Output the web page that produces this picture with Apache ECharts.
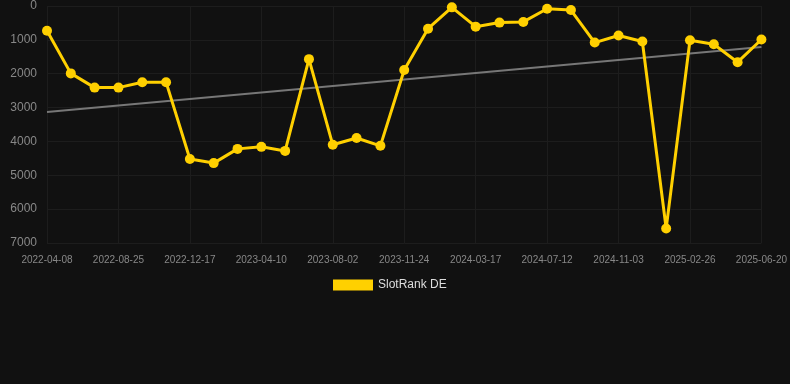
<!DOCTYPE html>
<html lang="en" style="height: 100%">
<head>
<meta charset="utf-8">
<title>SlotRank DE</title>
</head>
<body style="height: 100%; margin: 0; background: #111111">
<div id="container" style="height: 100%"></div>

<script type="text/javascript" src="https://cdn.jsdelivr.net/npm/echarts/dist/echarts.min.js"></script>

<script type="text/javascript">
var dates = [
  '2022-04-08', '2022-05-24', '2022-07-09', '2022-08-25', '2022-10-02', '2022-11-09',
  '2022-12-17', '2023-01-24', '2023-03-03', '2023-04-10', '2023-05-18', '2023-06-25',
  '2023-08-02', '2023-09-09', '2023-10-17', '2023-11-24', '2024-01-01', '2024-02-08',
  '2024-03-17', '2024-04-25', '2024-06-03', '2024-07-12', '2024-08-19', '2024-09-26',
  '2024-11-03', '2024-12-11', '2025-01-18', '2025-02-26', '2025-04-05', '2025-05-13',
  '2025-06-20'
];

var rankDE = [
  730, 1990, 2410, 2410, 2250, 2250,
  4520, 4640, 4220, 4160, 4280, 1570,
  4100, 3900, 4130, 1890, 670, 40,
  610, 490, 470, 80, 120, 1080,
  870, 1050, 6570, 1010, 1130, 1660,
  990
];

// trend line: only the two ends are known, the line joins them
var trendEnds = [3130, 1210];

var yTicks = [0, 1000, 2000, 3000, 4000, 5000, 6000, 7000];

var trend = dates.map(function (d, i) {
  if (i === 0) return trendEnds[0];
  if (i === dates.length - 1) return trendEnds[1];
  return '-';
});

var dom = document.getElementById('container');
var myChart = echarts.init(dom);

var option = {
  backgroundColor: '#111111',
  animation: false,
  grid: {
    left: 47,
    right: 28,
    top: 6,
    bottom: 141
  },
  legend: {
    bottom: 88,
    left: 328,
    itemWidth: 40,
    itemHeight: 11,
    data: [{ name: 'SlotRank DE', icon: 'rect' }],
    textStyle: { color: '#dddddd', fontSize: 12, fontFamily: 'Liberation Sans, Arial, sans-serif' }
  },
  xAxis: {
    type: 'category',
    data: dates,
    boundaryGap: false,
    axisLine: { show: false },
    axisTick: { show: false },
    axisLabel: {
      interval: 2,
      color: '#888888',
      fontSize: 10,
      margin: 12,
      fontFamily: 'Liberation Sans, Arial, sans-serif'
    },
    splitLine: {
      show: true,
      interval: 2,
      lineStyle: { color: '#1d1d1d', width: 1 }
    }
  },
  yAxis: {
    type: 'value',
    inverse: true,
    min: yTicks[0],
    max: yTicks[yTicks.length - 1],
    interval: 1000,
    axisLine: { show: false },
    axisTick: { show: false },
    axisLabel: {
      color: '#888888',
      fontSize: 12,
      margin: 10,
      formatter: function (v) { return String(v); },
      fontFamily: 'Liberation Sans, Arial, sans-serif'
    },
    splitLine: { lineStyle: { color: '#1d1d1d', width: 1 } }
  },
  series: [
    {
      name: 'trend',
      type: 'line',
      data: trend,
      connectNulls: true,
      symbol: 'none',
      lineStyle: { color: '#777777', width: 2 },
      z: 1
    },
    {
      name: 'SlotRank DE',
      type: 'line',
      data: rankDE,
      symbol: 'circle',
      symbolSize: 10,
      color: '#ffd000',
      lineStyle: { color: '#ffd000', width: 3 },
      itemStyle: { color: '#ffd000' },
      z: 2
    }
  ]
};

myChart.setOption(option);
window.addEventListener('resize', myChart.resize);
</script>
</body>
</html>
